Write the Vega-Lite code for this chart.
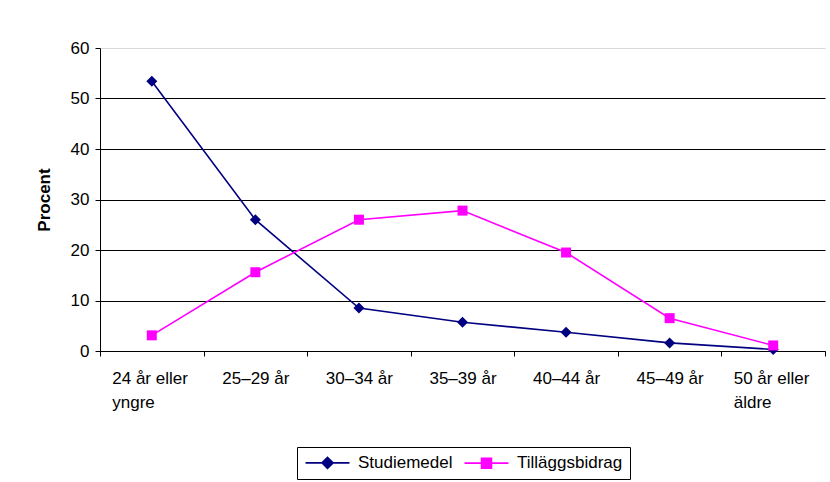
{
  "$schema": "https://vega.github.io/schema/vega-lite/v6.json",
  "autosize": {"type": "none"},
  "padding": {"left": 100, "top": 48, "right": 5, "bottom": 131},
  "width": 725,
  "height": 303,
  "background": "white",
  "config": {
    "font": "Liberation Sans",
    "view": {"stroke": null},
    "axis": {"labelColor": "black", "titleColor": "black", "domainColor": "black", "tickColor": "black", "labelFont": "Liberation Sans", "titleFont": "Liberation Sans"}
  },
  "data": {
    "values": [
      {"age": "24 år eller yngre", "series": "Studiemedel", "value": 53.4},
      {"age": "25–29 år", "series": "Studiemedel", "value": 26.0},
      {"age": "30–34 år", "series": "Studiemedel", "value": 8.5},
      {"age": "35–39 år", "series": "Studiemedel", "value": 5.7},
      {"age": "40–44 år", "series": "Studiemedel", "value": 3.7},
      {"age": "45–49 år", "series": "Studiemedel", "value": 1.6},
      {"age": "50 år eller äldre", "series": "Studiemedel", "value": 0.3},
      {"age": "24 år eller yngre", "series": "Tilläggsbidrag", "value": 3.1},
      {"age": "25–29 år", "series": "Tilläggsbidrag", "value": 15.6},
      {"age": "30–34 år", "series": "Tilläggsbidrag", "value": 26.0},
      {"age": "35–39 år", "series": "Tilläggsbidrag", "value": 27.8},
      {"age": "40–44 år", "series": "Tilläggsbidrag", "value": 19.5},
      {"age": "45–49 år", "series": "Tilläggsbidrag", "value": 6.5},
      {"age": "50 år eller äldre", "series": "Tilläggsbidrag", "value": 1.1}
    ]
  },
  "encoding": {
    "x": {
      "field": "age", "type": "nominal", "sort": null,
      "scale": {"paddingInner": 0, "paddingOuter": 0},
      "axis": {
        "title": null, "labelAngle": 0, "tickBand": "extent", "tickSize": 5,
        "labelFontSize": 17, "labelPadding": 14, "labelLineHeight": 24,
        "labelBaseline": "top",
        "labelExpr": "datum.label == '24 år eller yngre' ? ['24 år eller', 'yngre'] : datum.label == '50 år eller äldre' ? ['50 år eller', 'äldre'] : datum.label",
        "labelAlign": {"condition": {"test": "indexof(datum.label, 'eller') >= 0", "value": "left"}, "value": "center"},
        "labelOffset": {"condition": {"test": "indexof(datum.label, 'eller') >= 0", "value": -40}, "value": 0},
        "grid": false
      }
    },
    "y": {
      "field": "value", "type": "quantitative",
      "scale": {"domain": [0, 60], "nice": false},
      "axis": {
        "title": "Procent", "titleFontSize": 17, "titleFontWeight": "bold", "titlePadding": 17,
        "values": [0, 10, 20, 30, 40, 50, 60], "tickSize": 5, "labelFontSize": 17, "labelPadding": 6,
        "grid": true, "gridWidth": 1,
        "gridColor": {"condition": {"test": "datum.value === 60", "value": "#d9d9d9"}, "value": "black"}
      }
    }
  },
  "layer": [
    {
      "mark": {"type": "line", "strokeWidth": 1.6},
      "encoding": {
        "color": {
          "field": "series", "type": "nominal",
          "scale": {"domain": ["Studiemedel", "Tilläggsbidrag"], "range": ["#000080", "#ff00ff"]},
          "legend": {
            "orient": "none", "legendX": 197, "legendY": 399, "direction": "horizontal", "title": null,
            "strokeColor": "black", "padding": 7,
            "labelFont": "Liberation Sans", "labelFontSize": 17, "labelColor": "black",
            "symbolSize": 196, "symbolStrokeWidth": 1.6, "symbolOffset": 15, "labelOffset": 22, "columnPadding": 8,
            "encode": {
              "symbols": {
                "update": {
                  "shape": {"signal": "datum.value === 'Studiemedel' ? 'M-3.14,0H-0.79L0,-0.79L0.79,0H3.14M0.79,0L0,0.79L-0.79,0Z' : 'M-3.14,0H-0.71V-0.71H0.71V0H3.14M0.71,0V0.71H-0.71V0Z'"},
                  "fill": {"signal": "datum.value === 'Studiemedel' ? '#000080' : '#ff00ff'"},
                  "stroke": {"signal": "datum.value === 'Studiemedel' ? '#000080' : '#ff00ff'"},
                  "fillOpacity": {"value": 1},
                  "strokeWidth": {"value": 1.6}
                }
              }
            }
          }
        }
      }
    },
    {
      "transform": [{"filter": "datum.series === 'Studiemedel'"}],
      "mark": {"type": "point", "shape": "diamond", "filled": true, "opacity": 1, "size": 121, "color": "#000080"}
    },
    {
      "transform": [{"filter": "datum.series === 'Tilläggsbidrag'"}],
      "mark": {"type": "point", "shape": "square", "filled": true, "opacity": 1, "size": 100, "color": "#ff00ff"}
    }
  ]
}
